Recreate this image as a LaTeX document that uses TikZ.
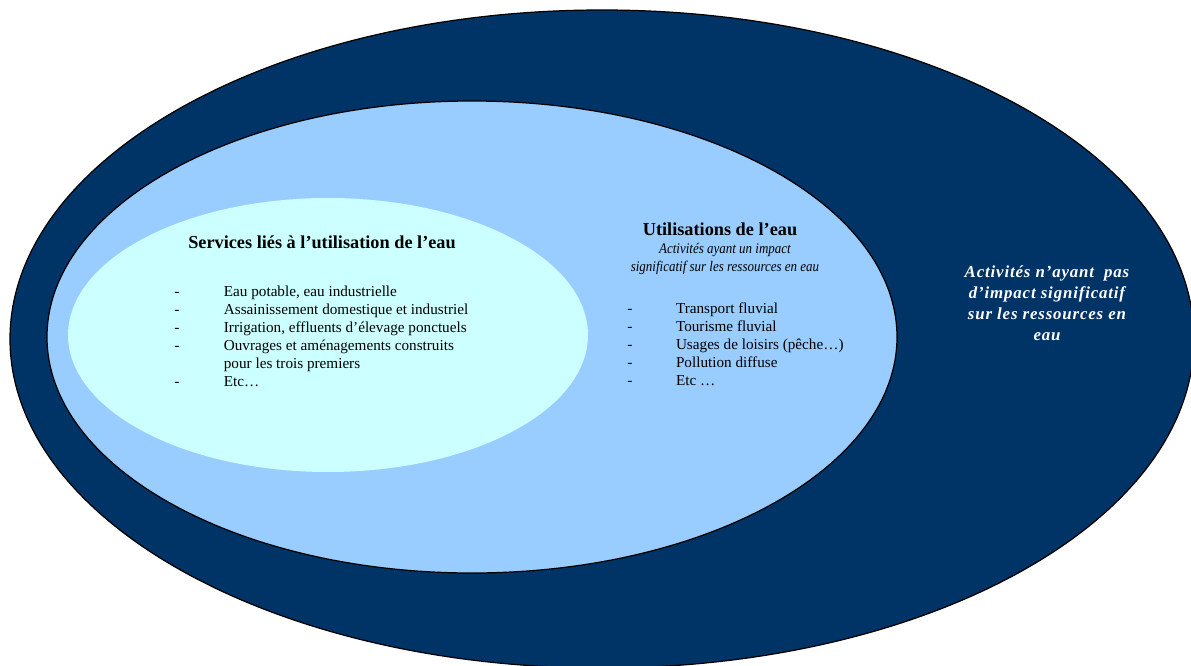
\documentclass[tikz,border=0pt]{standalone}
\usepackage{fontspec}
\setmainfont{Liberation Serif}
\newfontfamily\narrowfam[FakeStretch=0.88]{Liberation Serif}
\newfontfamily\spacedfam[LetterSpace=5]{Liberation Serif}

\definecolor{darkwater}{HTML}{003366}
\definecolor{midwater}{HTML}{99CCFF}
\definecolor{lightwater}{HTML}{CCFFFF}

\tikzset{
	titletext/.style={inner sep=0pt, font=\fontsize{10.4}{12}\selectfont\bfseries},
	listtext/.style={inner sep=0pt, anchor=north west, font=\fontsize{8.65}{10.2}\selectfont},
	subtext/.style={inner sep=0pt, align=center, font=\narrowfam\fontsize{8.4}{10.2}\selectfont\itshape},
	outtext/.style={inner sep=0pt, align=center, text=white, font=\spacedfam\fontsize{9.6}{12}\selectfont\bfseries\itshape}
}

\begin{document}
\begin{tikzpicture}[x=0.02cm, y=-0.02cm]
	\useasboundingbox (0,0) rectangle (1191,666);
	\clip (0,0) rectangle (1191,666);

	% the three zones
	\draw[fill=darkwater, line width=0.7pt] (602,339) ellipse (592 and 329);
	\draw[fill=midwater, line width=0.7pt] (472,337) ellipse (425 and 236);
	\fill[lightwater] (328,335) ellipse (260 and 137);

	% services
	\node[titletext] (servtitle) at (322,242) {Services liés à l’utilisation de l’eau};
	\node[listtext] (servlist) at (174,284) {%
		\begin{tabular}{@{}p{28.2pt}@{}l@{}}
		- & Eau potable, eau industrielle\\
		- & Assainissement domestique et industriel\\
		- & Irrigation, effluents d’élevage ponctuels\\
		- & Ouvrages et aménagements construits\\
		  & pour les trois premiers\\
		- & Etc…
		\end{tabular}};

	% utilisations
	\node[titletext] (usetitle) at (720,229) {Utilisations de l’eau};
	\node[subtext] (usesub) at (725,259) {Activités ayant un impact\\significatif sur les ressources en eau};
	\node[listtext] (uselist) at (627,301) {%
		\begin{tabular}{@{}p{27.7pt}@{}l@{}}
		- & Transport fluvial\\
		- & Tourisme fluvial\\
		- & Usages de loisirs (pêche…)\\
		- & Pollution diffuse\\
		- & Etc …
		\end{tabular}};

	% outside
	\node[outtext] (outside) at (1047,303) {Activités n’ayant\ \ pas\\ d’impact significatif\\sur les ressources en\\eau};
\end{tikzpicture}
\end{document}
